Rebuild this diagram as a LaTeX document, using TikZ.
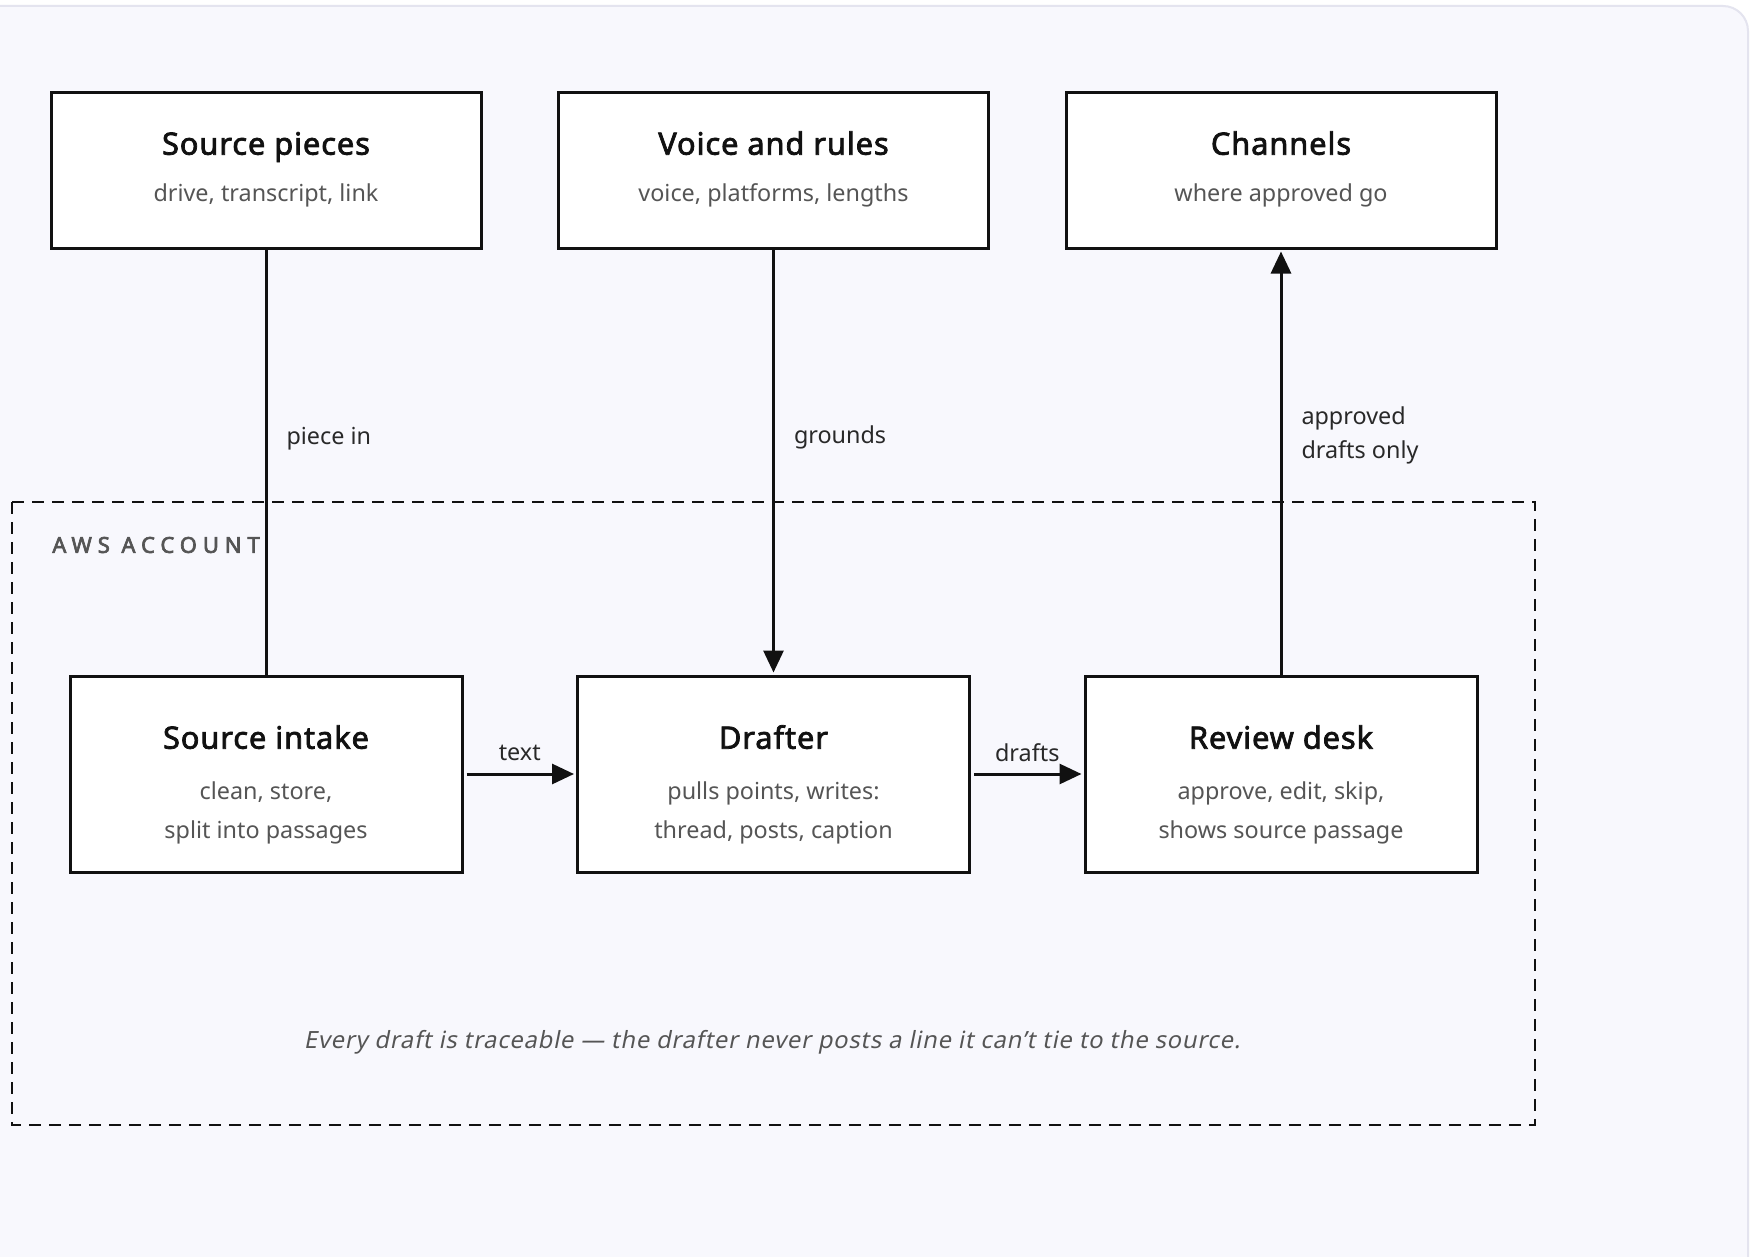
\documentclass[tikz,border=0pt]{standalone}
\usepackage{fontspec}
\setmainfont{Noto Sans}
\newfontfamily\titlefont[FakeBold=2.4, LetterSpace=3]{Noto Sans}
\newfontfamily\spacedfont[FakeBold=3, LetterSpace=27]{Noto Sans}
\newfontfamily\slantfont[FakeSlant=0.2, LetterSpace=3.3]{Noto Sans}
\usetikzlibrary{arrows.meta,positioning}
\definecolor{cardfill}{HTML}{F8F8FD}
\definecolor{cardline}{HTML}{E4E4EF}
\definecolor{subgray}{HTML}{555555}
\definecolor{ink}{HTML}{111111}
\tikzset{
	block/.style={draw=ink, line width=0.06cm, fill=white, minimum width=8.6cm, minimum height=3.12cm, inner sep=0pt},
	inblock/.style={block, minimum width=7.84cm, minimum height=3.92cm},
	title/.style={text=ink, font=\titlefont\fontsize{17.5}{20}\selectfont, text height=13.3pt, text depth=0pt},
	subtext/.style={text=subgray, font=\fontsize{13.3}{22.2}\selectfont, align=center},
	flow/.style={draw=ink, line width=0.06cm},
	flowarrow/.style={-{Triangle[length=0.44cm,width=0.4cm]}, shorten >=0.04cm},
	lbl/.style={inner sep=0pt, text=ink!90, font=\fontsize{13.3}{19.3}\selectfont, align=left},
	boundary/.style={draw=ink, line width=0.058cm, dash pattern=on 0.24cm off 0.16cm}
}
\begin{document}
\begin{tikzpicture}
	%Page and card
	\clip (0,0) rectangle (35,-25.14);
	\fill[white] (0,0) rectangle (35,-25.14);
	\draw[cardline, fill=cardfill, line width=0.04cm, rounded corners=0.5cm] (-1,-0.12) rectangle (34.96,-27);
	%Account boundary
	\draw[boundary] (0.24,-10.04) rectangle (30.7,-22.5);
	\node [anchor=west, inner sep=0pt, text=subgray, font=\spacedfont\fontsize{12.5}{14}\selectfont] (awslabel) at (1.04,-10.9) {AWS ACCOUNT};
	%Centres of the boxes
	\coordinate (top1) at (5.32,-3.40);
	\coordinate (top2) at (15.47,-3.40);
	\coordinate (top3) at (25.62,-3.40);
	\coordinate (low1) at (5.32,-15.48);
	\coordinate (low2) at (15.47,-15.48);
	\coordinate (low3) at (25.62,-15.48);
	%Outside boxes
	\node [block] (srcpieces) at (top1) {};
	\node [title] at ([yshift=0.54cm]top1) {Source pieces};
	\node [subtext] at ([yshift=-0.51cm]top1) {drive, transcript, link};
	\node [block] (voice) at (top2) {};
	\node [title] at ([yshift=0.54cm]top2) {Voice and rules};
	\node [subtext] at ([yshift=-0.51cm]top2) {voice, platforms, lengths};
	\node [block] (channels) at (top3) {};
	\node [title] at ([yshift=0.54cm]top3) {Channels};
	\node [subtext] at ([yshift=-0.51cm]top3) {where approved go};
	%Boxes in the account
	\node [inblock] (intake) at (low1) {};
	\node [title] at ([yshift=0.74cm]low1) {Source intake};
	\node [subtext] at ([yshift=-0.78cm]low1) {clean, store,\\split into passages};
	\node [inblock] (drafter) at (low2) {};
	\node [title] at ([yshift=0.74cm]low2) {Drafter};
	\node [subtext] at ([yshift=-0.78cm]low2) {pulls points, writes:\\thread, posts, caption};
	\node [inblock] (review) at (low3) {};
	\node [title] at ([yshift=0.74cm]low3) {Review desk};
	\node [subtext] at ([yshift=-0.78cm]low3) {approve, edit, skip,\\shows source passage};
	%Connectors
	\draw [flow] (srcpieces) -- (intake) node [lbl, pos=0.446, right=0.38cm] {piece in};
	\draw [flow, flowarrow] (voice) -- (drafter) node [lbl, pos=0.443, right=0.38cm] {grounds};
	\draw [flow, flowarrow] (review) -- (channels) node [lbl, pos=0.562, right=0.38cm] {approved\\drafts only};
	\draw [flow, flowarrow, shorten <=0.06cm] (intake) -- (drafter) node [lbl, midway, yshift=0.43cm] {text};
	\draw [flow, flowarrow, shorten <=0.06cm] (drafter) -- (review) node [lbl, midway, yshift=0.43cm] {drafts};
	%Note at the bottom
	\node [text=subgray, font=\slantfont\fontsize{13.5}{16}\selectfont] (tagline) at (15.44,-20.85) {Every draft is traceable — the drafter never posts a line it can’t tie to the source.};
\end{tikzpicture}
\end{document}
